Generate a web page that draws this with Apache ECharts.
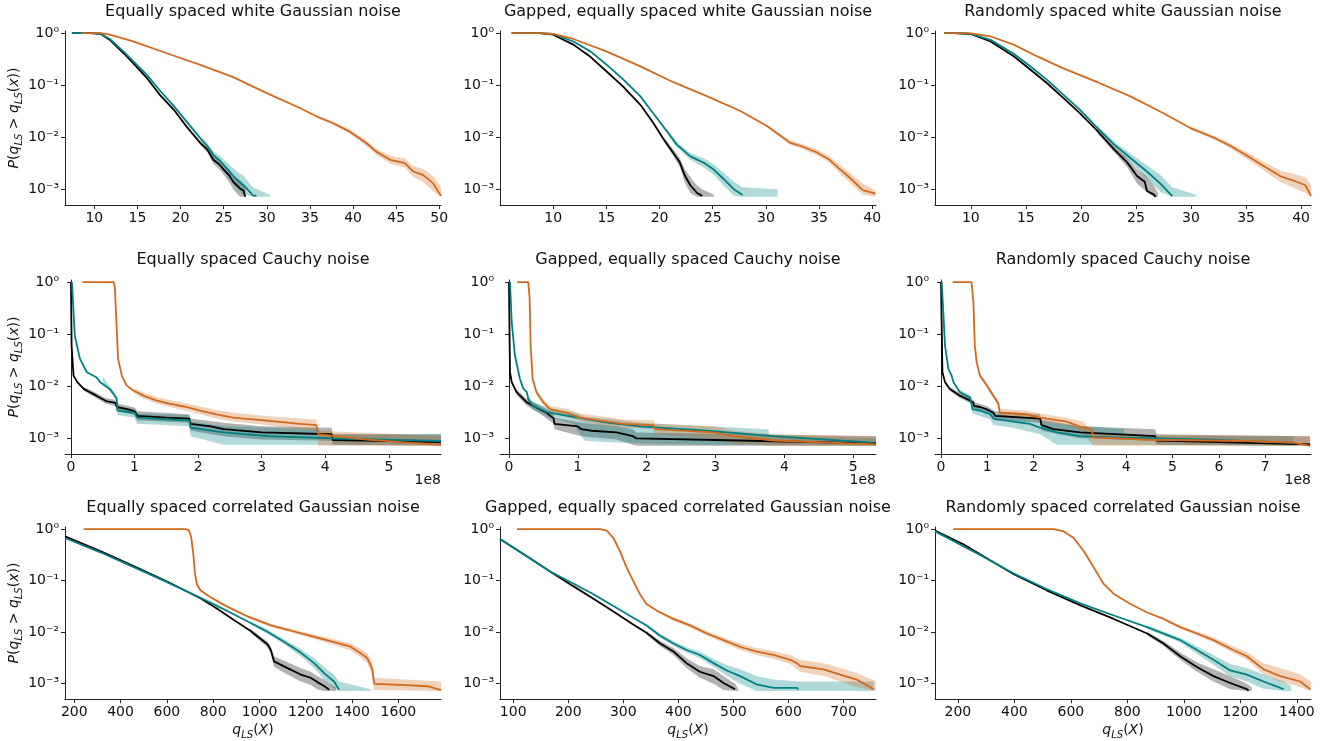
<!DOCTYPE html>
<html><head><meta charset="utf-8">
<script src="https://cdn.jsdelivr.net/npm/echarts@6.0.0/dist/echarts.min.js"></script>
<style>html,body{margin:0;padding:0;background:#fff}#c{width:1325px;height:741px}</style>
</head><body><div id="c"></div>
<script>
// ---------- titles ----------
const titles = [
  'Equally spaced white Gaussian noise', 'Gapped, equally spaced white Gaussian noise', 'Randomly spaced white Gaussian noise',
  'Equally spaced Cauchy noise', 'Gapped, equally spaced Cauchy noise', 'Randomly spaced Cauchy noise',
  'Equally spaced correlated Gaussian noise', 'Gapped, equally spaced correlated Gaussian noise', 'Randomly spaced correlated Gaussian noise'
];
// x-axis limits and tick step per panel (Cauchy row in units of 1e8)
const xLimits = [[6.6,50.2],[5.0,40.35],[6.75,40.9],[-0.094,5.82],[-0.13,5.33],[-0.13,7.99],[160,1784],[76,759],[119,1450]];
const xSteps = [5,5,5,1,1,1,200,100,200];
const yLimits = [0.000501, 1.096];

// ---------- panel 1 ----------
const p1_black = [[7.4,1],[9.5,1],[10.7,0.97],[11.8,0.74],[13.4,0.41],[14.5,0.265],[16.1,0.137],[17.6,0.065],[19.2,0.034],[20.7,0.016],[22.3,0.0077],[23.1,0.0058],[23.8,0.0037],[24.5,0.003],[25,0.0024],[25.6,0.0019],[26.1,0.0014],[26.9,0.00104],[27.3,0.00095],[27.5,0.00072]];
const p1_black_band = [[22.3,0.007,0.0085],[23.1,0.0051,0.0066],[23.8,0.0031,0.0044],[24.5,0.0024,0.0037],[25,0.0019,0.003],[25.6,0.0014,0.0025],[26.1,0.001,0.0019],[26.9,0.00072,0.0015],[27.5,0.00072,0.0011]];
const p1_teal = [[7.4,1],[9.5,1],[10.7,0.97],[11.8,0.77],[13.4,0.44],[14.5,0.29],[16.1,0.158],[17.6,0.079],[19.2,0.04],[20.7,0.02],[22.3,0.0095],[23.1,0.0068],[23.8,0.0046],[24.6,0.0035],[25.3,0.0026],[26.4,0.0016],[27.3,0.0012],[28.4,0.00077],[28.8,0.00075]];
const p1_teal_band = [[22.3,0.0087,0.0104],[23.1,0.006,0.0077],[23.8,0.0039,0.0054],[24.6,0.0028,0.0043],[25.3,0.0019,0.0034],[26.4,0.0011,0.0023],[27.3,0.0008,0.0018],[28.4,0.00072,0.0011],[30.4,0.00072,0.00078]];
const p1_orange = [[8.5,1],[10.7,1],[11.8,0.93],[14.5,0.69],[18.4,0.41],[22.3,0.246],[26.1,0.143],[30,0.0705],[33.9,0.036],[35.8,0.025],[37.7,0.0186],[39.6,0.0129],[41.6,0.0076],[42.7,0.0053],[44.3,0.0037],[46,0.0032],[47,0.0022],[48.1,0.0019],[49.3,0.0013],[50.2,0.00075]];
const p1_orange_band = [[35.8,0.0235,0.0265],[37.7,0.0172,0.02],[39.6,0.0117,0.0142],[41.6,0.0067,0.0086],[42.7,0.0046,0.006],[44.3,0.0031,0.0044],[46,0.0026,0.0039],[47,0.0017,0.0028],[48.1,0.0014,0.0025],[49.3,0.00092,0.0018],[50.2,0.00072,0.0011]];

// ---------- panel 2 ----------
const p2_black = [[6.1,1],[8.7,1],[10,0.93],[11.9,0.6],[13.5,0.35],[15,0.185],[16.6,0.093],[18.2,0.042],[19.4,0.019],[20.4,0.0091],[21.3,0.005],[21.9,0.0033],[22.4,0.0018],[22.9,0.0012],[23.5,0.00086],[24,0.00075]];
const p2_black_band = [[20.4,0.0082,0.01],[21.3,0.0043,0.0058],[21.9,0.0027,0.004],[22.4,0.0013,0.0024],[22.9,0.00085,0.0017],[23.5,0.00072,0.0012],[24,0.00072,0.001],[25.1,0.00072,0.0008]];
const p2_teal = [[6.1,1],[8.7,1],[10,0.96],[11.9,0.69],[13.5,0.445],[15,0.25],[16.6,0.128],[18.2,0.061],[19.4,0.029],[20.7,0.013],[21.6,0.0073],[22.9,0.0043],[24.2,0.0032],[25.1,0.0024],[26,0.0016],[27,0.001],[27.8,0.00078]];
const p2_teal_band = [[20.7,0.0118,0.0143],[21.6,0.0065,0.0082],[22.9,0.0037,0.005],[24.2,0.0026,0.0039],[25.1,0.0019,0.003],[26,0.0012,0.0021],[27,0.00075,0.0014],[27.8,0.00072,0.0011],[31.1,0.00072,0.001]];
const p2_orange = [[6.1,1],[8.7,1],[10,0.96],[11.9,0.77],[15,0.445],[18.2,0.23],[21.3,0.114],[24.5,0.061],[27.6,0.032],[30.1,0.0164],[32.3,0.0078],[33.3,0.0068],[34.8,0.0051],[35.9,0.0038],[37,0.0024],[38,0.0016],[39.1,0.00097],[40.3,0.00083]];
const p2_orange_band = [[30.1,0.0155,0.0174],[32.3,0.0071,0.0086],[33.3,0.0061,0.0076],[34.8,0.0045,0.0058],[35.9,0.0033,0.0044],[37,0.002,0.0029],[38,0.0013,0.002],[39.1,0.00078,0.0013],[40.3,0.00072,0.00095]];

// ---------- panel 3 ----------
const p3_black = [[7.6,1],[8.5,1],[10,0.96],[11.8,0.69],[13.9,0.36],[15.4,0.2],[16.9,0.11],[18.4,0.057],[19.9,0.029],[21.5,0.0132],[23,0.0059],[24.2,0.0033],[25.1,0.0018],[25.8,0.0014],[26,0.00093],[26.6,0.0008],[26.8,0.00072]];
const p3_black_band = [[21.5,0.012,0.0145],[23,0.0052,0.0068],[24.2,0.0027,0.004],[25.1,0.0013,0.0024],[25.8,0.00095,0.0019],[26.6,0.00072,0.0012],[27,0.00072,0.00085]];
const p3_teal = [[7.6,1],[8.5,1],[10,0.97],[11.8,0.74],[13.9,0.4],[15.4,0.23],[16.9,0.128],[18.4,0.066],[19.9,0.034],[21.5,0.0152],[23,0.0073],[24.5,0.004],[26,0.0022],[27.2,0.0013],[28.3,0.00074]];
const p3_teal_band = [[21.5,0.014,0.0166],[23,0.0065,0.0083],[24.5,0.0033,0.0049],[26,0.0016,0.0029],[27.2,0.0009,0.0019],[28.3,0.00072,0.0011],[30.5,0.00072,0.00078]];
const p3_orange = [[7.6,1],[8.5,1],[10,0.99],[11.8,0.86],[13.9,0.6],[16,0.36],[18.4,0.21],[21.5,0.114],[24.5,0.061],[27.5,0.029],[29.9,0.0152],[32.1,0.0098],[33.6,0.0068],[35.1,0.0044],[36.6,0.0028],[38.1,0.0018],[39.6,0.0014],[40.4,0.0012],[40.9,0.00074]];
const p3_orange_band = [[29.9,0.0143,0.0162],[32.1,0.009,0.0107],[33.6,0.0061,0.0076],[35.1,0.0038,0.0051],[36.6,0.0023,0.0034],[38.1,0.0014,0.0023],[39.6,0.001,0.0019],[40.4,0.00085,0.0017],[40.9,0.00072,0.0012]];

// ---------- panel 4 (x in 1e8) ----------
const p4_black = [[0,1],[0.01,0.06],[0.04,0.016],[0.1,0.012],[0.2,0.0089],[0.4,0.0066],[0.55,0.0052],[0.7,0.0048],[0.72,0.004],[0.9,0.0036],[1.0,0.0033],[1.05,0.0027],[1.5,0.0025],[1.86,0.0024],[1.88,0.0019],[2.2,0.0017],[2.4,0.0015],[3.0,0.0013],[4.1,0.0012],[4.12,0.00093],[5.0,0.00089],[5.82,0.00085]];
const p4_black_band = [[0.2,0.0082,0.0097],[0.4,0.0059,0.0074],[0.55,0.0046,0.0059],[0.7,0.0042,0.0055],[0.72,0.0034,0.0047],[1.0,0.0028,0.0039],[1.05,0.0022,0.0033],[1.86,0.002,0.0029],[1.88,0.0014,0.0024],[2.4,0.0011,0.002],[3.0,0.00095,0.0017],[4.1,0.0009,0.0016],[4.12,0.00075,0.0012],[5.82,0.00072,0.0012]];
const p4_teal = [[0.015,1],[0.06,0.094],[0.14,0.034],[0.25,0.0186],[0.4,0.0149],[0.46,0.012],[0.61,0.0089],[0.69,0.0066],[0.72,0.0057],[0.73,0.0034],[1.0,0.0031],[1.04,0.0025],[1.86,0.0022],[1.88,0.0016],[2.4,0.0013],[3.1,0.0011],[4.12,0.001],[5.82,0.00089]];
const p4_teal_band = [[0.5,0.012,0.0155],[0.61,0.008,0.0098],[0.69,0.0058,0.0075],[0.72,0.005,0.0065],[0.73,0.0028,0.0041],[1.0,0.0025,0.0037],[1.04,0.0019,0.003],[1.86,0.0017,0.0028],[1.88,0.0011,0.0021],[2.4,0.00075,0.0017],[3.9,0.00075,0.0015],[3.92,0.00075,0.0012],[5.82,0.00075,0.0012]];
const p4_orange = [[0.18,1],[0.67,1],[0.69,0.8],[0.72,0.126],[0.74,0.034],[0.8,0.016],[0.875,0.0103],[0.98,0.0083],[1.14,0.0066],[1.35,0.0053],[1.56,0.0046],[1.82,0.004],[2.03,0.0034],[2.29,0.0029],[2.55,0.0025],[3.08,0.0022],[3.6,0.0019],[3.86,0.0018],[3.89,0.0012],[4.65,0.00095],[5.82,0.00075]];
const p4_orange_band = [[0.98,0.0075,0.0093],[1.14,0.0058,0.0076],[1.35,0.0046,0.0062],[1.56,0.004,0.0054],[1.82,0.0034,0.0047],[2.03,0.0029,0.0041],[2.29,0.0024,0.0035],[2.55,0.0021,0.0031],[3.08,0.0018,0.0027],[3.6,0.0015,0.0024],[3.86,0.0014,0.0023],[3.89,0.00072,0.0014],[5.82,0.00072,0.0011]];

// ---------- panel 5 (x in 1e8) ----------
const p5_black = [[0,1],[0.015,0.0186],[0.04,0.012],[0.11,0.0077],[0.26,0.0049],[0.45,0.0036],[0.55,0.0031],[0.6,0.0027],[0.65,0.0024],[0.66,0.0019],[1.0,0.0017],[1.05,0.0015],[1.2,0.0014],[1.56,0.0013],[1.8,0.0011],[1.85,0.001],[3.0,0.00093],[4.0,0.00087],[5.33,0.0008]];
const p5_black_band = [[0.11,0.0068,0.0087],[0.26,0.0042,0.0057],[0.45,0.003,0.0043],[0.65,0.0019,0.003],[0.66,0.0015,0.0025],[1.05,0.0011,0.002],[1.56,0.00095,0.0017],[1.8,0.00075,0.0015],[1.85,0.00072,0.0013],[5.33,0.00072,0.0011]];
const p5_teal = [[0.015,1],[0.04,0.17],[0.087,0.039],[0.16,0.0138],[0.21,0.0089],[0.26,0.0077],[0.28,0.0057],[0.35,0.0042],[0.55,0.0032],[0.93,0.0026],[1.42,0.002],[1.9,0.0017],[2.87,0.0014],[3.84,0.0011],[4.6,0.00095],[5.29,0.00083]];
const p5_teal_band = [[0.28,0.0048,0.0066],[0.35,0.0035,0.005],[0.55,0.0026,0.0039],[0.93,0.0019,0.0032],[1.1,0.0009,0.0026],[1.42,0.00085,0.0024],[1.9,0.0008,0.002],[2.87,0.00075,0.0017],[3.77,0.00075,0.0015],[3.78,0.00075,0.0011],[5.33,0.00072,0.001]];
const p5_orange = [[0.12,1],[0.28,1],[0.3,0.5],[0.315,0.06],[0.344,0.0138],[0.4,0.0077],[0.5,0.0049],[0.6,0.0036],[0.84,0.0031],[1.03,0.0025],[1.32,0.0022],[1.66,0.0019],[2.1,0.0018],[2.12,0.0015],[2.97,0.0013],[3.26,0.0011],[3.84,0.00091],[5.33,0.00077]];
const p5_orange_band = [[0.4,0.0069,0.0086],[0.5,0.0043,0.0056],[0.6,0.0031,0.0042],[0.84,0.0026,0.0037],[1.03,0.0021,0.003],[1.32,0.0018,0.0027],[1.66,0.0016,0.0023],[2.1,0.0015,0.0022],[2.12,0.0012,0.0019],[2.97,0.001,0.0017],[3.26,0.0008,0.0014],[3.84,0.00072,0.0012],[5.33,0.00072,0.0011]];

// ---------- panel 6 (x in 1e8) ----------
const p6_black = [[0,1],[0.03,0.0186],[0.086,0.012],[0.19,0.0089],[0.41,0.0066],[0.63,0.0053],[0.7,0.0049],[0.71,0.0042],[0.84,0.004],[0.99,0.0036],[1.13,0.0031],[1.17,0.0027],[2.14,0.0024],[2.17,0.0018],[2.43,0.0015],[3.0,0.0013],[4.62,0.0011],[4.66,0.00091],[7.97,0.00077]];
const p6_black_band = [[0.19,0.0081,0.0097],[0.41,0.0059,0.0074],[0.63,0.0047,0.006],[0.71,0.0036,0.005],[0.99,0.0031,0.0042],[1.17,0.0022,0.0033],[2.14,0.002,0.0029],[2.17,0.0014,0.0023],[3.0,0.001,0.0017],[4.62,0.0009,0.0015],[4.66,0.00075,0.0012],[7.97,0.00072,0.0011]];
const p6_teal = [[0.014,1],[0.05,0.265],[0.086,0.06],[0.16,0.0216],[0.23,0.016],[0.27,0.012],[0.41,0.0077],[0.63,0.0061],[0.66,0.0057],[0.68,0.0036],[0.84,0.0034],[1.06,0.0029],[1.13,0.0024],[1.56,0.0021],[1.92,0.0019],[2.14,0.0016],[2.5,0.0013],[3.0,0.0011],[3.72,0.00104],[5.88,0.00094],[7.61,0.00082]];
const p6_teal_band = [[0.41,0.007,0.0085],[0.63,0.0054,0.0068],[0.68,0.003,0.0043],[1.06,0.0023,0.0035],[1.13,0.0018,0.003],[1.56,0.0016,0.0026],[2.14,0.0012,0.0022],[2.5,0.00075,0.0019],[3.95,0.00075,0.0015],[3.96,0.00075,0.0011],[7.61,0.00072,0.0011]];
const p6_orange = [[0.25,1],[0.66,1],[0.7,0.4],[0.73,0.06],[0.77,0.029],[0.84,0.016],[0.99,0.0103],[1.13,0.0066],[1.24,0.0046],[1.27,0.0031],[1.85,0.0029],[2.14,0.0025],[2.71,0.0021],[3.07,0.0016],[3.25,0.0015],[3.29,0.00104],[4.44,0.00094],[6.6,0.00089],[7.61,0.00083],[7.97,0.00072]];
const p6_orange_band = [[0.84,0.0145,0.0177],[0.99,0.0093,0.0114],[1.13,0.0059,0.0074],[1.24,0.0041,0.0053],[1.27,0.0027,0.0037],[1.85,0.0025,0.0034],[2.14,0.0021,0.003],[2.71,0.0018,0.0025],[3.07,0.0013,0.0021],[3.29,0.00072,0.0012],[7.97,0.00072,0.0011]];

// ---------- panel 7 ----------
const p7_black = [[160,0.72],[315,0.37],[459,0.19],[603,0.095],[747,0.045],[819,0.028],[891,0.017],[962,0.0105],[1034,0.0058],[1049,0.0045],[1063,0.0027],[1121,0.002],[1178,0.0015],[1221,0.0013],[1250,0.00107],[1279,0.0009],[1301,0.00076]];
const p7_black_band = [[962,0.0096,0.0115],[1034,0.0051,0.0066],[1049,0.0038,0.0053],[1063,0.0021,0.0034],[1121,0.0015,0.0026],[1178,0.0011,0.002],[1221,0.00095,0.0017],[1250,0.00077,0.0014],[1279,0.00072,0.0012],[1301,0.00072,0.001],[1330,0.00072,0.00085]];
const p7_teal = [[160,0.67],[315,0.35],[459,0.18],[603,0.092],[747,0.046],[819,0.032],[891,0.022],[962,0.015],[1034,0.0102],[1106,0.0065],[1178,0.004],[1236,0.0025],[1279,0.0016],[1322,0.0011],[1344,0.00076]];
const p7_teal_band = [[962,0.014,0.0161],[1034,0.0093,0.0112],[1106,0.0058,0.0073],[1178,0.0034,0.0047],[1236,0.002,0.0031],[1279,0.0012,0.0021],[1322,0.0008,0.0015],[1344,0.00072,0.0011],[1480,0.00072,0.00078]];
const p7_orange = [[240,1],[680,1],[695,0.95],[705,0.7],[715,0.3],[722,0.13],[730,0.085],[745,0.065],[780,0.05],[850,0.033],[950,0.02],[1050,0.0135],[1178,0.0095],[1250,0.0078],[1322,0.0064],[1394,0.0052],[1437,0.0039],[1466,0.0031],[1488,0.0019],[1495,0.00099],[1610,0.00095],[1725,0.00089],[1784,0.00075]];
const p7_orange_band = [[950,0.0188,0.0213],[1050,0.0125,0.0146],[1178,0.0087,0.0104],[1250,0.007,0.0087],[1322,0.0056,0.0073],[1394,0.0044,0.0061],[1437,0.0032,0.0047],[1466,0.0025,0.0039],[1488,0.0014,0.0026],[1495,0.00075,0.0013],[1784,0.00072,0.0011]];

// ---------- panel 8 ----------
const p8_black = [[76,0.64],[124,0.3],[167,0.15],[209,0.078],[245,0.045],[282,0.025],[318,0.0141],[342,0.0097],[367,0.006],[391,0.0042],[415,0.0025],[439,0.0017],[464,0.0014],[482,0.00103],[503,0.00078]];
const p8_black_band = [[342,0.009,0.0105],[367,0.0053,0.0068],[391,0.0036,0.0049],[415,0.002,0.0031],[439,0.0013,0.0022],[464,0.001,0.0019],[482,0.00075,0.0014],[503,0.00072,0.001],[508,0.00072,0.00082]];
const p8_teal = [[76,0.64],[124,0.3],[167,0.15],[209,0.088],[245,0.055],[282,0.032],[318,0.019],[342,0.0135],[367,0.0085],[391,0.006],[415,0.0045],[439,0.0036],[464,0.0025],[488,0.0018],[512,0.0014],[542,0.00097],[573,0.00083],[615,0.00083],[618,0.00078]];
const p8_teal_band = [[342,0.0125,0.0145],[367,0.0078,0.0093],[391,0.0054,0.0067],[415,0.004,0.0051],[439,0.0031,0.0042],[464,0.0021,0.003],[488,0.0014,0.0023],[512,0.001,0.0019],[542,0.00072,0.0014],[573,0.00072,0.0012],[618,0.00072,0.0011],[755,0.00072,0.0011]];
const p8_orange = [[107,1],[258,1],[270,0.93],[282,0.67],[294,0.37],[306,0.18],[318,0.099],[330,0.055],[342,0.035],[361,0.026],[391,0.018],[421,0.0135],[452,0.0094],[482,0.007],[512,0.0052],[542,0.0042],[573,0.0036],[603,0.0029],[615,0.0025],[621,0.0022],[664,0.0019],[694,0.0015],[724,0.0012],[755,0.00078]];
const p8_orange_band = [[361,0.0245,0.0275],[391,0.0165,0.0195],[421,0.0123,0.0148],[452,0.0085,0.0104],[482,0.0062,0.0079],[512,0.0045,0.006],[542,0.0036,0.0049],[573,0.003,0.0043],[603,0.0024,0.0036],[621,0.0017,0.0029],[664,0.0014,0.0025],[694,0.0011,0.002],[724,0.00085,0.0016],[759,0.00072,0.0011]];

// ---------- panel 9 ----------
const p9_black = [[119,0.93],[221,0.5],[280,0.32],[398,0.133],[516,0.064],[634,0.033],[752,0.018],[870,0.0094],[928,0.006],[987,0.0034],[1046,0.0021],[1105,0.0014],[1164,0.00103],[1223,0.00078],[1229,0.00072]];
const p9_black_band = [[870,0.0087,0.0102],[928,0.0054,0.0067],[987,0.0029,0.004],[1046,0.0017,0.0026],[1105,0.0011,0.0019],[1164,0.00078,0.0014],[1223,0.00072,0.001],[1240,0.00072,0.00085]];
const p9_teal = [[119,0.9],[280,0.31],[398,0.137],[516,0.068],[634,0.036],[752,0.021],[870,0.0125],[987,0.007],[1046,0.0045],[1105,0.0029],[1164,0.0018],[1223,0.0015],[1282,0.0011],[1353,0.00078]];
const p9_teal_band = [[870,0.0116,0.0135],[987,0.0063,0.0078],[1046,0.0038,0.0053],[1105,0.0023,0.0036],[1164,0.0014,0.0024],[1223,0.0011,0.002],[1282,0.0008,0.0015],[1353,0.00072,0.0011],[1380,0.00072,0.0009]];
const p9_orange = [[184,1],[539,1],[575,0.9],[610,0.67],[646,0.37],[681,0.18],[716,0.086],[752,0.055],[811,0.035],[870,0.024],[928,0.018],[987,0.0125],[1046,0.0094],[1105,0.007],[1164,0.0048],[1223,0.0034],[1282,0.0019],[1341,0.0014],[1412,0.0011],[1447,0.00078]];
const p9_orange_band = [[928,0.0169,0.0192],[987,0.0116,0.0135],[1046,0.0086,0.0103],[1105,0.0063,0.0079],[1164,0.0042,0.0056],[1223,0.0029,0.0041],[1282,0.0015,0.0025],[1341,0.0011,0.002],[1412,0.00085,0.0015],[1450,0.00072,0.0011]];

const panels = [
  [p1_black, p1_black_band, p1_teal, p1_teal_band, p1_orange, p1_orange_band],
  [p2_black, p2_black_band, p2_teal, p2_teal_band, p2_orange, p2_orange_band],
  [p3_black, p3_black_band, p3_teal, p3_teal_band, p3_orange, p3_orange_band],
  [p4_black, p4_black_band, p4_teal, p4_teal_band, p4_orange, p4_orange_band],
  [p5_black, p5_black_band, p5_teal, p5_teal_band, p5_orange, p5_orange_band],
  [p6_black, p6_black_band, p6_teal, p6_teal_band, p6_orange, p6_orange_band],
  [p7_black, p7_black_band, p7_teal, p7_teal_band, p7_orange, p7_orange_band],
  [p8_black, p8_black_band, p8_teal, p8_teal_band, p8_orange, p8_orange_band],
  [p9_black, p9_black_band, p9_teal, p9_teal_band, p9_orange, p9_orange_band]
];

// ---------- layout / style ----------
const FONT = 'DejaVu Sans';
const colors = ['#000000', '#008080', '#D2691E'];
const colLeft = [65, 500, 935], colWidth = 376;
const rowTop = [31, 280, 527], rowHeight = 174;
const titleY = [12, 260, 508];

const sup = {'0':'\u2070','1':'\u00B9','2':'\u00B2','3':'\u00B3','-':'\u207B'};
function logLabel(v) {
  const e = Math.round(Math.log10(v));
  return '10' + String(e).split('').map(c => sup[c]).join('');
}
const richMath = {
  i: {fontFamily: FONT, fontStyle: 'italic', fontSize: 14, lineHeight: 20, color: '#111'},
  s: {fontFamily: FONT, fontStyle: 'italic', fontSize: 10, lineHeight: 12, verticalAlign: 'bottom', color: '#111'}
};

const grids = [], xAxes = [], yAxes = [], series = [], graphics = [];
for (let k = 0; k < 9; k++) {
  const r = Math.floor(k / 3), c = k % 3;
  grids.push({left: colLeft[c], top: rowTop[r], width: colWidth, height: rowHeight, containLabel: false});
  xAxes.push({
    type: 'value', gridIndex: k, min: xLimits[k][0], max: xLimits[k][1],
    minInterval: xSteps[k], maxInterval: xSteps[k],
    axisLine: {show: true, onZero: false, lineStyle: {color: '#222', width: 1}},
    axisTick: {show: true, length: 4, lineStyle: {color: '#222'}},
    axisLabel: {show: true, margin: 6, fontFamily: FONT, fontSize: 14, color: '#111',
      showMinLabel: false, showMaxLabel: false,
      formatter: v => String(Math.round(v * 1000) / 1000)},
    splitLine: {show: false},
    name: r === 2 ? '{i|q}{s|LS}({i|X})' : '',
    nameLocation: 'middle', nameGap: 20,
    nameTextStyle: {fontFamily: FONT, fontSize: 14, color: '#111', lineHeight: 20, rich: richMath}
  });
  yAxes.push({
    type: 'log', gridIndex: k, min: yLimits[0], max: yLimits[1], logBase: 10,
    axisLine: {show: true, lineStyle: {color: '#222', width: 1}},
    axisTick: {show: true, length: 4, lineStyle: {color: '#222'}},
    axisLabel: {show: true, margin: 6, fontFamily: FONT, fontSize: 14, color: '#111',
      showMinLabel: false, showMaxLabel: false, formatter: logLabel},
    splitLine: {show: false},
    name: c === 0 ? '{i|P}({i|q}{s|LS} > {i|q}{s|LS}({i|x}))' : '',
    nameLocation: 'middle', nameRotate: 90, nameGap: 39,
    nameTextStyle: {fontFamily: FONT, fontSize: 14, color: '#111', lineHeight: 20, rich: richMath}
  });
  const p = panels[k];
  for (let s = 0; s < 3; s++) {
    const line = p[2 * s], band = p[2 * s + 1], col = colors[s];
    series.push({
      type: 'line', xAxisIndex: k, yAxisIndex: k, data: line, showSymbol: false, symbol: 'none',
      lineStyle: {color: col, width: 1.8}, itemStyle: {color: col}, z: 2, silent: true, animation: false
    });
    series.push({
      type: 'custom', xAxisIndex: k, yAxisIndex: k, data: [[band[0][0], band[0][2]]], z: 2, silent: true, animation: false,
      renderItem: (function (b, colr) {
        return function (params, api) {
          const up = b.map(q => api.coord([q[0], q[2]]));
          const lo = b.map(q => api.coord([q[0], q[1]])).reverse();
          return {type: 'polygon', shape: {points: up.concat(lo)}, style: {fill: colr, opacity: 0.3}};
        };
      })(band, col)
    });
  }
  graphics.push({
    type: 'text', x: colLeft[c] + colWidth / 2, y: titleY[r],
    style: {text: titles[k], font: '16px "' + FONT + '"', fill: '#111', align: 'center', verticalAlign: 'middle'}
  });
  if (r === 1) {
    graphics.push({
      type: 'text', x: colLeft[c] + colWidth, y: 480,
      style: {text: '1e8', font: '14px "' + FONT + '"', fill: '#111', align: 'right', verticalAlign: 'middle'}
    });
  }
}

const chart = echarts.init(document.getElementById('c'), null, {renderer: 'canvas'});
chart.setOption({
  animation: false,
  backgroundColor: '#ffffff',
  grid: grids, xAxis: xAxes, yAxis: yAxes, series: series, graphic: graphics
});
</script>
</body></html>
